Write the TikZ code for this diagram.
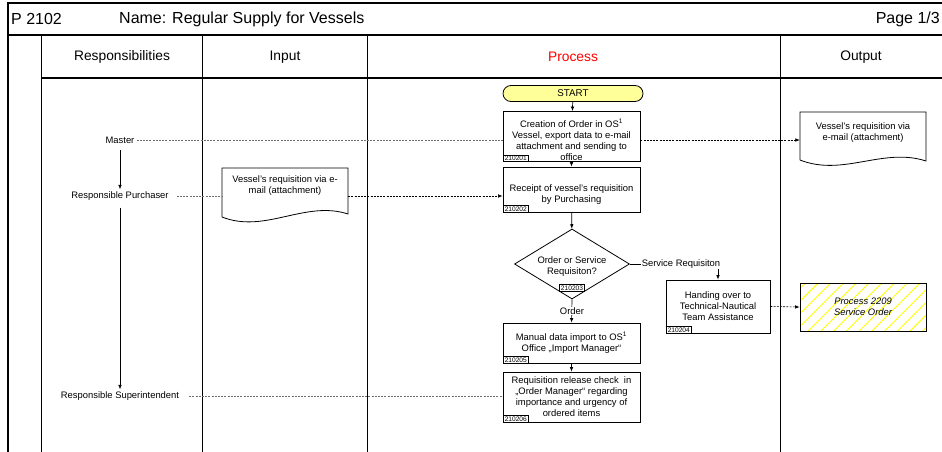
\documentclass[tikz,border=0pt]{standalone}
\usepackage{fontspec}
\setmainfont{Liberation Sans}
\usetikzlibrary{shapes.geometric,arrows.meta,patterns.meta}
\definecolor{startyellow}{RGB}{255,255,153}
\definecolor{dashgrey}{RGB}{110,110,110}
\begin{document}
\begin{tikzpicture}[x=1pt,y=-1pt,
  font=\fontsize{9.4}{11}\selectfont,
  frame/.style={line width=1.2pt},
  colline/.style={line width=0.9pt},
  hdrtext/.style={font=\fontsize{16}{18}\selectfont,inner sep=0pt},
  coltext/.style={font=\fontsize{13.8}{16}\selectfont,inner sep=0pt},
  proc/.style={draw,line width=0.8pt,minimum width=137pt,align=center,inner sep=1pt},
  startsty/.style={draw,line width=0.8pt,fill=startyellow,rounded corners=8pt,minimum width=140pt,minimum height=16pt,inner sep=0pt,font=\fontsize{9.8}{11}\selectfont},
  decision/.style={draw,line width=0.8pt,shape=diamond,aspect=1.64,minimum width=115pt,minimum height=70pt,inner sep=0pt,align=center},
  idlab/.style={draw,line width=0.7pt,fill=white,inner xsep=1.8pt,inner ysep=0.9pt,font=\fontsize{6.6}{7}\selectfont},
  role/.style={inner sep=2pt},
  doctext/.style={align=center,inner sep=0pt},
  flow/.style={line width=0.7pt,-{Latex[length=4.5pt,width=3.6pt]}},
  greydash/.style={line width=0.5pt,dashgrey,dash pattern=on 2pt off 1.2pt},
  darkdash/.style={line width=0.6pt,black,dash pattern=on 2pt off 1.2pt,-{Latex[length=4.5pt,width=3.6pt]}},
  lbl/.style={fill=white,inner sep=1pt}
]
\useasboundingbox (0,0) rectangle (942,452);

% frame
\draw[frame] (8,452) -- (8,3) -- (942,3);
\draw[frame] (8,35) -- (942,35);
\draw[frame] (41,78) -- (942,78);
\draw[colline] (41,35) -- (41,452);
\draw[colline] (202,35) -- (202,452);
\draw[colline] (367,35) -- (367,452);
\draw[colline] (780,35) -- (780,452);

% header
\node[hdrtext,anchor=west] (pid) at (11,19) {P 2102};
\node[hdrtext,anchor=west] (pname) at (119,19) {Name: Regular Supply for Vessels};
\node[hdrtext,anchor=east] (page) at (940,19) {Page 1/3};

\node[coltext] (hresp) at (122,57) {Responsibilities};
\node[coltext] (hin) at (285,57) {Input};
\node[coltext,text=red] (hproc) at (573,57) {Process};
\node[coltext] (hout) at (861,57) {Output};

% roles
\node[role] (master) at (120,140) {Master};
\node[role] (purch) at (120,196) {Responsible Purchaser};
\node[role] (super) at (120,396) {Responsible Superintendent};
\draw[flow,shorten <=5pt] (master.south) -- (purch.north);
\draw[flow,shorten <=5pt] (purch.south) -- (super.north);

% process
\node[startsty] (start) at (573,93.5) {START};
\node[proc,minimum height=47pt] (b1) at (571.5,136.5) {\rule{0pt}{15pt}Creation of Order in OS\textsuperscript{1}\\Vessel, export data to e-mail\\attachment and sending to\\office};
\node[proc,minimum height=45pt] (b2) at (571.5,189.5) {\rule{0pt}{17pt}Receipt of vessel’s requisition\\by Purchasing};
\node[decision] (dia) at (572,264) {\rule{0pt}{11pt}Order or Service\\Requisiton?};
\node[proc,minimum width=104pt,minimum height=53pt] (b4) at (718,306.5) {Handing over to\\Technical-Nautical\\Team Assistance};
\node[proc,minimum height=40pt] (b5) at (571.5,343) {Manual data import to OS\textsuperscript{1}\\Office „Import Manager“};
\node[proc,minimum height=50pt] (b6) at (571.5,397) {Requisition release check\ \ in\\„Order Manager“ regarding\\importance and urgency of\\ordered items};

\node[idlab,anchor=south west] (id1) at (b1.south west) {210201};
\node[idlab,anchor=south west] (id2) at (b2.south west) {210202};
\node[idlab] (id3) at (572,288) {210203};
\node[idlab,anchor=south west] (id4) at (b4.south west) {210204};
\node[idlab,anchor=south west] (id5) at (b5.south west) {210205};
\node[idlab,anchor=south west] (id6) at (b6.south west) {210206};

\draw[flow] (start) -- (b1);
\draw[flow] (b1) -- (b2);
\draw[flow] (b2) -- (dia);
\draw[flow] (dia.east) -| (b4.north);
\node[lbl] (srlab) at (681,264) {Service Requisiton};
\draw[flow] (dia.south) -- (b5.north);
\node[lbl] (ordlab) at (572,311) {Order};
\draw[flow] (b5) -- (b6);

% input document
\node[doctext,minimum width=126pt] (indoc) at (285,186) {Vessel’s requisition via e-\\mail (attachment)};
\draw[line width=0.8pt] (222,217) -- (222,168) -- (348,168) -- (348,214)
  .. controls (305,200) and (265,234) .. (222,217);

% output document
\node[doctext,minimum width=126pt] (outdoc) at (863,133) {Vessel’s requisition via\\e-mail (attachment)};
\draw[line width=0.8pt] (800,160) -- (800,112) -- (926,112) -- (926,161)
  .. controls (883,147) and (843,177) .. (800,160);

% process 2209
\node[draw,line width=0.8pt,minimum width=126pt,minimum height=48pt,align=center,
  pattern={Lines[angle=45,distance=9pt,line width=0.9pt]},pattern color=yellow,
  font=\fontsize{9.4}{11}\selectfont\itshape] (p2209) at (863,307) {Process 2209\\Service Order};

% connectors
\draw[greydash] (master.east) -- (master.east -| b1.west);
\draw[darkdash] (master.east -| b1.east) -- (master.east -| outdoc.west);
\draw[greydash] ([xshift=6pt]purch.east) -- (purch.east -| indoc.west);
\draw[darkdash] (purch.east -| indoc.east) -- (purch.east -| b2.west);
\draw[greydash] ([xshift=8pt]super.east) -- (super.east -| b6.west);
\draw[darkdash] (b4.east) -- (p2209.west);
\end{tikzpicture}
\end{document}
